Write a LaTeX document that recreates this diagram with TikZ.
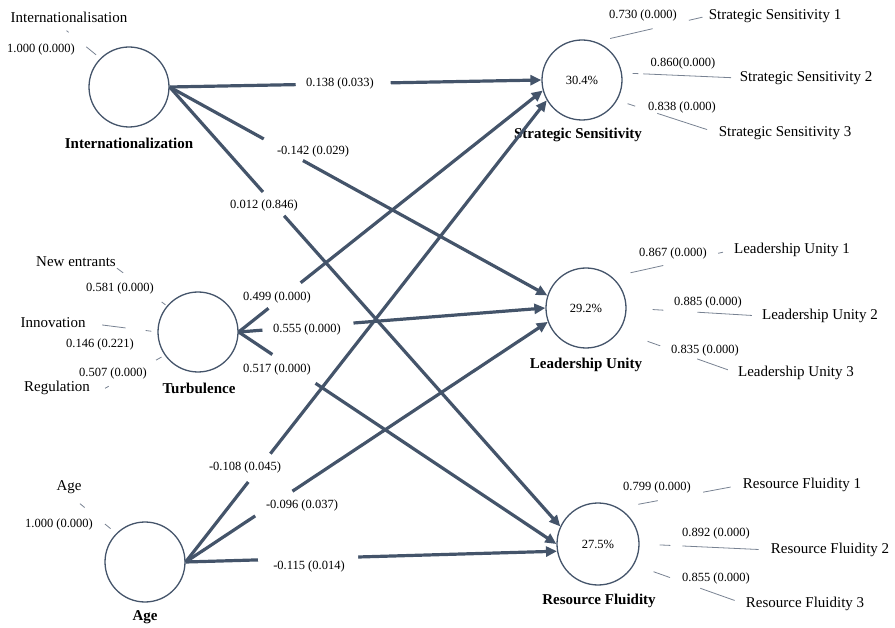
\documentclass[tikz,border=0pt]{standalone}
\usepackage{fontspec}
\setmainfont{Liberation Serif}
\usetikzlibrary{arrows.meta}
\definecolor{pathcol}{RGB}{68,84,106}
\definecolor{indcol}{RGB}{120,130,146}
\begin{document}
\begin{tikzpicture}[x=1pt,y=-1pt,
  lv/.style={circle, draw=pathcol, line width=1.3pt, minimum size=80pt, inner sep=0pt, font=\fontsize{12.5}{14}\selectfont},
  cname/.style={font=\fontsize{15}{18}\selectfont\bfseries, inner sep=1pt},
  indlbl/.style={font=\fontsize{15}{18}\selectfont, inner sep=1pt},
  coef/.style={font=\fontsize{12.5}{14}\selectfont, inner sep=1pt},
  pth/.style={draw=pathcol, line width=3.2pt, -{Triangle[length=11pt,width=10pt]}},
  ind/.style={draw=indcol, line width=0.8pt},
  gapw/.style={sloped, fill=white, inner sep=0pt, minimum height=7pt, minimum width=#1},
  igap/.style={sloped, fill=white, inner sep=0pt, minimum height=3pt, minimum width=#1},
]
\useasboundingbox (0,0) rectangle (895,628);

% latent variables
\node[lv] (intl) at (129,87) {};
\node[lv] (turb) at (198,332) {};
\node[lv] (age) at (145,562) {};
\node[lv] (ss) at (582,80) {30.4\%};
\node[lv] (lu) at (586,308) {29.2\%};
\node[lv, minimum size=82pt] (rf) at (598,544) {27.5\%};

% construct names
\node[cname] (intlname) at (129,143) {Internationalization};
\node[cname] (turbname) at (199,388) {Turbulence};
\node[cname] (agename) at (145,617) {Age};
\node[cname] (ssname) at (578,135) {Strategic Sensitivity};
\node[cname] (luname) at (586,365) {Leadership Unity};
\node[cname] (rfname) at (599,601) {Resource Fluidity};

% indicators
\node[indlbl] (ii) at (69,17) {Internationalisation};
\node[indlbl] (ne) at (76,262) {New entrants};
\node[indlbl] (inn) at (53,323) {Innovation};
\node[indlbl] (reg) at (57,388) {Regulation};
\node[indlbl] (ai) at (69,487) {Age};
\node[indlbl] (ss1) at (775,16) {Strategic Sensitivity 1};
\node[indlbl] (ss2) at (806,78) {Strategic Sensitivity 2};
\node[indlbl] (ss3) at (785,133) {Strategic Sensitivity 3};
\node[indlbl] (lu1) at (792,250) {Leadership Unity 1};
\node[indlbl] (lu2) at (820,316) {Leadership Unity 2};
\node[indlbl] (lu3) at (796,373) {Leadership Unity 3};
\node[indlbl] (rf1) at (802,485) {Resource Fluidity 1};
\node[indlbl] (rf2) at (830,550) {Resource Fluidity 2};
\node[indlbl] (rf3) at (805,604) {Resource Fluidity 3};

% structural paths
\draw[pth] (intl.east) -- node[gapw=95pt, pos=0.467]{} (ss.180);
\draw[pth] (intl.east) -- node[gapw=44.5pt, pos=0.301]{} (lu.162);
\draw[pth] (intl.east) -- node[gapw=31.5pt, pos=0.266]{} (rf.155);
\draw[pth] (turb.east) -- node[gapw=40.8pt, pos=0.151]{} (ss.195);
\draw[pth] (turb.east) -- node[gapw=91.3pt, pos=0.226]{} (lu.180);
\draw[pth] (turb.east) -- node[gapw=51.6pt, pos=0.174]{} (rf.180);
\draw[pth] (age.east) -- node[gapw=35.6pt, pos=0.204]{} (ss.210);
\draw[pth] (age.east) -- node[gapw=44.4pt, pos=0.2435]{} (lu.200);
\draw[pth] (age.east) -- node[gapw=100pt, pos=0.33]{} (rf.190);

% path coefficients
\node[coef] (p1) at (340,83) {0.138 (0.033)};
\node[coef] (p2) at (313,151) {-0.142 (0.029)};
\node[coef] (p3) at (264,205) {0.012 (0.846)};
\node[coef] (p4) at (277,297) {0.499 (0.000)};
\node[coef] (p5) at (307,329) {0.555 (0.000)};
\node[coef] (p6) at (277,369) {0.517 (0.000)};
\node[coef] (p7) at (245,467) {-0.108 (0.045)};
\node[coef] (p8) at (302,505) {-0.096 (0.037)};
\node[coef] (p9) at (309,566) {-0.115 (0.014)};

% indicator lines
\draw[ind, shorten <=14.7pt, shorten >=5.2pt] (ss.70) -- node[igap=37pt,pos=0.67]{} (ss1.west);
\draw[ind, shorten <=10.7pt, shorten >=7.5pt] (ss.10) -- node[igap=5pt,pos=0.162]{} (ss2.west);
\draw[ind, shorten <=10.9pt, shorten >=11pt] (ss.-30) -- node[igap=23pt,pos=0.289]{} (ss3.west);
\draw[ind, shorten <=18.8pt, shorten >=10.2pt] (lu.50) -- node[igap=56pt,pos=0.65]{} (lu1.west);
\draw[ind, shorten <=26pt, shorten >=9pt] (lu.0) -- node[igap=34pt,pos=0.4]{} (lu2.west);
\draw[ind, shorten <=30pt, shorten >=9.6pt] (lu.-35) -- node[igap=39pt,pos=0.505]{} (lu3.west);
\draw[ind, shorten <=19.8pt, shorten >=11.2pt] (rf.60) -- node[igap=45.8pt,pos=0.502]{} (rf1.west);
\draw[ind, shorten <=20pt, shorten >=11pt] (rf.0) -- node[igap=12pt,pos=0.282]{} (rf2.west);
\draw[ind, shorten <=20.7pt, shorten >=10.6pt] (rf.-30) -- node[igap=31.8pt,pos=0.462]{} (rf3.west);
\draw[ind, shorten <=5.5pt, shorten >=11.3pt] (intl.135) -- node[igap=22.7pt,pos=0.537]{} (ii.-150);
\draw[ind, shorten <=1.7pt] (turb.140) -- node[igap=48pt,pos=0.49]{} (ne.south east);
\draw[ind, shorten <=6pt, shorten >=15.6pt] (turb.180) -- node[igap=20.2pt,pos=0.308]{} (inn.east);
\draw[ind, shorten <=3.6pt, shorten >=16pt] (turb.215) -- node[igap=53.6pt,pos=0.44]{} (reg.south east);
\draw[ind, shorten <=7.3pt, shorten >=14.1pt] (age.135) -- node[igap=25.7pt,pos=0.455]{} (ai.south);

% loadings
\node[coef] (w1) at (41,49) {1.000 (0.000)};
\node[coef] (w2) at (120,288) {0.581 (0.000)};
\node[coef] (w3) at (100,344) {0.146 (0.221)};
\node[coef] (w4) at (113,373) {0.507 (0.000)};
\node[coef] (w5) at (59,524) {1.000 (0.000)};
\node[coef] (w6) at (643,15) {0.730 (0.000)};
\node[coef] (w7) at (683,63) {0.860(0.000)};
\node[coef] (w8) at (682,107) {0.838 (0.000)};
\node[coef] (w9) at (673,253) {0.867 (0.000)};
\node[coef] (w10) at (708,302) {0.885 (0.000)};
\node[coef] (w11) at (705,350) {0.835 (0.000)};
\node[coef] (w12) at (657,487) {0.799 (0.000)};
\node[coef] (w13) at (716,533) {0.892 (0.000)};
\node[coef] (w14) at (716,578) {0.855 (0.000)};
\end{tikzpicture}
\end{document}
